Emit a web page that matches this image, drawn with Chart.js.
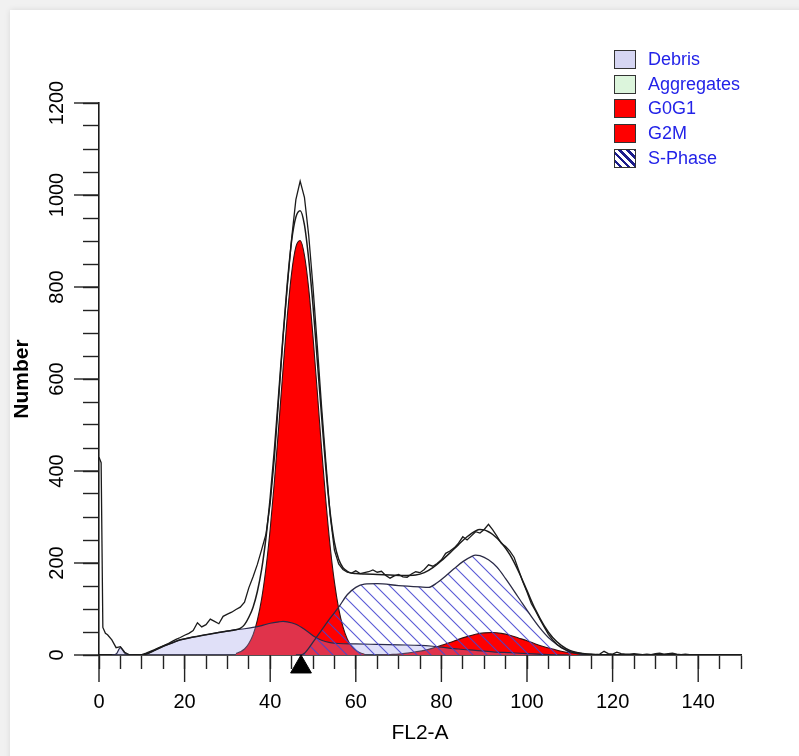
<!DOCTYPE html>
<html>
<head>
<meta charset="utf-8">
<script src="https://cdn.jsdelivr.net/npm/chart.js@4.4.1/dist/chart.umd.min.js"></script>
<style>
html,body{margin:0;padding:0;width:799px;height:756px;overflow:hidden;background:#f1f1f1;}
#card{position:absolute;left:10px;top:10px;width:810px;height:770px;background:#fff;box-shadow:0 0 6px rgba(0,0,0,0.10);}
#c{position:absolute;left:0;top:0;}
#legend{position:absolute;left:614px;top:47px;font-family:"Liberation Sans",Arial,sans-serif;font-size:18px;color:#2323e8;}
.row{height:24.7px;display:flex;align-items:center;white-space:nowrap;}
.sw{display:inline-block;width:20px;height:17px;border:1.5px solid #333;margin-right:12px;}
</style>
</head>
<body>
<div id="card"></div>
<canvas id="c" width="799" height="756"></canvas>
<div id="legend"></div>
<script>
// ---------- data ----------
const seriesNames = ['Debris', 'Aggregates', 'G0G1', 'G2M', 'S-Phase'];
const xTickValues = [0, 20, 40, 60, 80, 100, 120, 140];
const xTickLabels = ['0', '20', '40', '60', '80', '100', '120', '140'];
const yTickValues = [0, 200, 400, 600, 800, 1000, 1200];
const yTickLabels = ['0', '200', '400', '600', '800', '1000', '1200'];
const xAxisTitle = 'FL2-A';
const yAxisTitle = 'Number';

// raw histogram (jagged line)
const rawX = [0,0.5,0.9,1.5,2,3,4,5,6,7,8,9,10,11,12,13,14,15,16,17,18,19,20,21,22,23,24,25,26,27,28,29,30,31,32,33,34,35,36,37,38,39,40,41,42,43,44,45,46,47,48,49,50,51,52,53,54,55,56,57,58,59,60,61,62,63,64,65,66,67,68,69,70,71,72,73,74,75,76,77,78,79,80,81,82,83,84,85,86,87,88,89,90,91,92,93,94,95,96,97,98,99,100,101,102,103,104,105,106,107,108,109,110,111,112,113,114,115,116,117,118,119,120,121,122,123,124,125,126,127,128,129,130,131,132,133,134,135,136,137,138,139,140,150];
const rawY = [430,418,60,47,44,33,16,18,6,1,0,0,1,4,8,12,16,20,24,29,34,38,43,47,53,70,61,66,78,73,68,84,89,93,99,104,115,146,170,197,229,262,330,430,560,690,802,905,990,1030,995,912,800,672,540,420,305,228,198,186,180,178,183,177,179,181,185,180,182,173,167,172,175,170,169,176,181,179,186,196,193,199,207,221,226,233,243,257,250,259,268,265,273,284,272,258,243,236,226,212,186,160,137,112,96,78,61,45,33,23,16,11,7,5,4,3,2,2,1,2,8,3,2,6,3,2,2,3,2,1,2,1,3,4,2,3,4,2,1,2,1,0,0,0];

// fitted model (smooth line)
const modelX = [8,10,11,13,15,17,19,22,25,28,30,32,33,34,35,36,37,38,39,40,41,42,43,44,45,46,47,48,49,50,51,52,53,54,55,56,57,58,59,60,62,65,68,71,74,76,78,80,82,84,86,88,89,90,91,92,94,96,98,100,102,104,106,108,110,112,114,116,118,120];
const modelY = [0,0,2,10,19,26,33,39,44,49,52,55,58,66,82,104,138,186,254,342,449,570,694,808,900,952,966,935,860,760,640,520,405,310,245,208,190,182,178,177,176,175,174,173,174,179,190,205,222,240,257,270,273,272,268,262,244,218,182,140,98,64,38,21,10,5,2,1,0,0];

// Debris component
const debrisX = [3,4,5,6,7,10,11,13,15,17,19,22,25,28,30,32,34,36,38,40,42,43,44,46,48,50,52,54,56,60,65,70,75,78,80,84,88,92,96,100,105,110];
const debrisY = [0,2,16,4,0,0,2,10,19,26,33,39,44,49,52,55,57,60,64,69,72,73,72,67,56,42,32,27,25,24,23,22,21,19,17,13,10,7,5,3,1,0];

// G0G1 component
const g0g1X = [32,33,34,35,36,37,38,39,40,41,42,43,44,45,46,47,48,49,50,51,52,53,54,55,56,57,58,59,60,61,62];
const g0g1Y = [3,7,13,25,44,76,122,188,274,379,498,621,737,830,887,901,869,796,692,572,449,335,237,159,101,61,35,19,10,5,2];

// G2M component
const g2mX = [66,68,70,72,74,76,78,80,82,84,86,88,90,92,94,96,98,100,102,104,106,108,110,112,114,116];
const g2mY = [0,1,2,4,7,10,15,21,27,34,40,45,48,49,47,43,37,31,24,18,13,8,5,3,1,0];

// S-Phase component
const sX = [46,47,48,50,52,54,56,58,60,62,65,70,75,77,79,81,83,85,87,88,89,91,93,95,97,99,101,103,105,107,109,111,113,115];
const sY = [0,0,4,28,54,80,104,131,147,154,155,151,148,147,157,172,188,203,214,217,216,207,191,166,139,111,84,59,38,23,12,5,1,0];

// channel marker (triangle under the axis)
const markerX = [47.2];
const markerY = [-26];

// ---------- rendering ----------
const FONT = '"Liberation Sans", Arial, sans-serif';
const pts = (xs, ys) => xs.map((x, i) => ({ x: x, y: ys[i] }));

function makeHatch() {
  const P = 14, c = document.createElement('canvas');
  c.width = P; c.height = P;
  const g = c.getContext('2d');
  g.strokeStyle = 'rgba(70,70,210,0.9)';
  g.lineWidth = 1.1;
  g.beginPath();
  g.moveTo(-2, -2); g.lineTo(P + 2, P + 2);
  g.moveTo(P - 2, -2); g.lineTo(P + 2, 2);
  g.moveTo(-2, P - 2); g.lineTo(2, P + 2);
  g.stroke();
  return g.createPattern(c, 'repeat');
}
const hatch = makeHatch();

// legend (HTML)
const swatch = {
  'Debris': 'background:#d6d6f3',
  'Aggregates': 'background:#dcf5dc',
  'G0G1': 'background:#ff0000',
  'G2M': 'background:#ff0000',
  'S-Phase': 'background:repeating-linear-gradient(45deg,#fff 0 3px,#1c1c8c 3px 5.5px)'
};
document.getElementById('legend').innerHTML = seriesNames.map(n =>
  '<div class="row"><span class="sw" style="' + swatch[n] + '"></span>' + n + '</div>').join('');

const majorTicks = {
  id: 'majorTicks',
  afterDraw(chart) {
    const { ctx, chartArea: a } = chart;
    const sx = chart.scales.x, sy = chart.scales.y;
    ctx.save();
    ctx.strokeStyle = '#222';
    ctx.lineWidth = 1.4;
    xTickValues.forEach(v => {
      const px = sx.getPixelForValue(v);
      ctx.beginPath(); ctx.moveTo(px, a.bottom); ctx.lineTo(px, a.bottom + 27); ctx.stroke();
    });
    yTickValues.forEach(v => {
      const py = sy.getPixelForValue(v);
      ctx.beginPath(); ctx.moveTo(a.left - 25, py); ctx.lineTo(a.left, py); ctx.stroke();
    });
    ctx.restore();
  }
};

new Chart(document.getElementById('c'), {
  type: 'line',
  data: {
    datasets: [
      { label: 'Raw', data: pts(rawX, rawY), borderColor: '#1b1b1b', borderWidth: 1.3, pointRadius: 0, fill: false, tension: 0 },
      { label: 'Model', data: pts(modelX, modelY), borderColor: '#1b1b1b', borderWidth: 1.5, pointRadius: 0, fill: false, cubicInterpolationMode: 'monotone' },
      { label: 'Marker', type: 'scatter', data: pts(markerX, markerY), pointStyle: 'triangle', pointRadius: 12, backgroundColor: '#000', borderColor: '#000', borderWidth: 1, clip: false },
      { label: 'S-Phase', data: pts(sX, sY), borderColor: '#2b2b45', borderWidth: 1.3, backgroundColor: hatch, fill: 'origin', pointRadius: 0, cubicInterpolationMode: 'monotone' },
      { label: 'Debris', data: pts(debrisX, debrisY), borderColor: '#2a2a4a', borderWidth: 1.2, backgroundColor: 'rgba(160,160,232,0.32)', fill: 'origin', pointRadius: 0, cubicInterpolationMode: 'monotone' },
      { label: 'G2M', data: pts(g2mX, g2mY), borderColor: '#331111', borderWidth: 1.1, backgroundColor: '#ff0000', fill: 'origin', pointRadius: 0, cubicInterpolationMode: 'monotone' },
      { label: 'G0G1', data: pts(g0g1X, g0g1Y), borderColor: '#331111', borderWidth: 1.1, backgroundColor: '#ff0000', fill: 'origin', pointRadius: 0, cubicInterpolationMode: 'monotone' }
    ]
  },
  options: {
    responsive: false,
    animation: false,
    events: [],
    layout: { padding: { top: 103, right: 58, bottom: 0, left: 0 } },
    plugins: { legend: { display: false }, tooltip: { enabled: false }, title: { display: false } },
    scales: {
      x: {
        type: 'linear', min: 0, max: 150,
        ticks: {
          stepSize: 5, autoSkip: false, maxRotation: 0, padding: 21, color: '#000',
          font: { family: FONT, size: 20 },
          callback: v => { const i = xTickValues.indexOf(v); return i >= 0 ? xTickLabels[i] : ''; }
        },
        grid: { drawOnChartArea: false, drawTicks: true, tickLength: 14, tickColor: '#222', tickWidth: 1.4 },
        border: { display: true, color: '#1a1a1a', width: 1.8 },
        title: { display: true, text: xAxisTitle, color: '#000', font: { family: FONT, size: 21 }, padding: { top: 0, bottom: 10 } },
        afterFit: s => { s.height = 101; }
      },
      y: {
        type: 'linear', min: 0, max: 1200,
        ticks: {
          stepSize: 50, autoSkip: false, minRotation: 90, maxRotation: 90, crossAlign: 'center', padding: 3, color: '#000',
          font: { family: FONT, size: 20 },
          callback: v => { const i = yTickValues.indexOf(v); return i >= 0 ? yTickLabels[i] : ''; }
        },
        grid: { drawOnChartArea: false, drawTicks: true, tickLength: 16, tickColor: '#222', tickWidth: 1.4 },
        border: { display: true, color: '#1a1a1a', width: 1.6 },
        title: { display: true, text: yAxisTitle, color: '#000', font: { family: FONT, size: 21, weight: 'bold' }, padding: { top: 10, bottom: 0 } },
        afterFit: s => { s.width = 99; }
      }
    }
  },
  plugins: [majorTicks]
});
</script>
</body>
</html>
